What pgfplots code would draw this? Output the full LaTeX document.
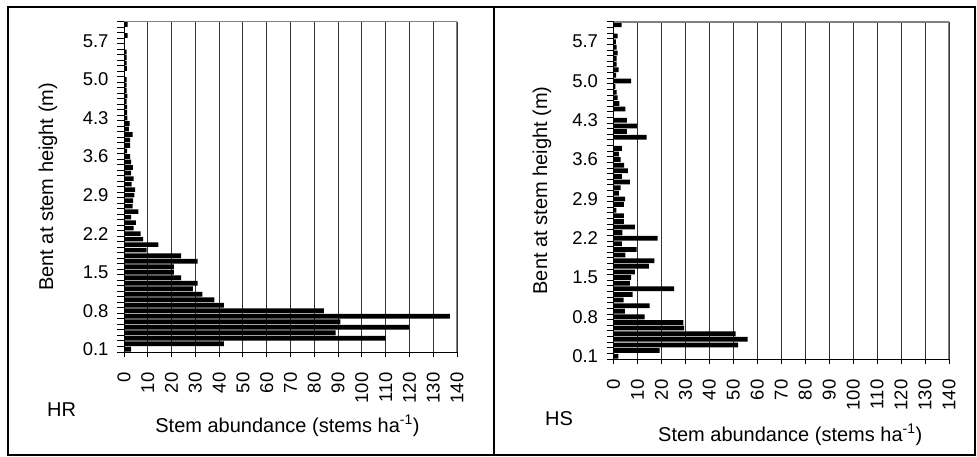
\documentclass[border=0pt]{standalone}
\usepackage{pgfplots}
\usepackage{pgfplotstable}
\pgfplotsset{compat=1.18}
\usepackage{fontspec}
\setmainfont{Liberation Sans}

\pgfplotstableread{
h hr hs
0.1 3 2
0.2 42 19.2
0.3 110 52
0.4 89 56
0.5 120 51
0.6 91 29.5
0.7 137 29.2
0.8 84 13
0.9 42 4.7
1.0 38 15.1
1.1 33 4.2
1.2 29 8
1.3 31 25.3
1.4 24 6.8
1.5 21 7.3
1.6 21 8.9
1.7 31 14.8
1.8 24 17.1
1.9 9.5 5
2.0 14.5 9.6
2.1 8 3.5
2.2 7 18.4
2.3 4 3.7
2.4 5 8.9
2.5 3 4.3
2.6 6 4.3
2.7 3.6 1.2
2.8 3.8 4.3
2.9 4.4 4.9
3.0 4.7 2.2
3.1 3.2 3
3.2 4 6.8
3.3 3 3.5
3.4 3.7 6
3.5 3 4.4
3.6 2.6 3
3.7 1.3 2.2
3.8 2.6 3.5
3.9 2.6 0
4.0 3.6 13.8
4.1 2 5.6
4.2 2.4 9.7
4.3 1.4 5.6
4.4 1.3 0
4.5 1.3 5
4.6 1.1 2.5
4.7 1.4 1.7
4.8 1.1 1.3
4.9 1.1 0.8
5.0 1.1 7.3
5.1 0 1.1
5.2 1.2 2.1
5.3 1.1 1.3
5.4 1.1 1.3
5.5 1.1 1.7
5.6 0 1.3
5.7 0 1
5.8 1.5 1.7
5.9 0 0
6.0 1.5 3.4
}\data

\pgfplotsset{
  panel/.style={
    scale only axis, enlargelimits=false,
    xmin=0, xmax=140, ymin=0.05, ymax=6.05,
    axis x line*=bottom, axis y line*=left,
    axis line style={black, line width=1bp},
    xtick={0,10,...,140},
    xticklabels={0,10,20,30,40,50,60,70,80,90,100,110,120,130,140},
    ytick={0.1,0.8,1.5,2.2,2.9,3.6,4.3,5.0,5.7},
    yticklabels={0.1,0.8,1.5,2.2,2.9,3.6,4.3,5.0,5.7},
    minor ytick={0.05,0.15,...,6.06},
    tick align=outside,
    major tick length=5bp, minor tick length=7bp,
    major y tick style={draw=none},
    minor y tick style={black, line width=1bp},
    major x tick style={black, line width=1bp},
    xmajorgrids,
    grid style={black!80, line width=1bp},
    tick label style={font=\fontsize{18.5bp}{21bp}\selectfont},
    xticklabel style={rotate=90, anchor=east, xshift=-12bp},
    yticklabel style={xshift=-7bp},
    label style={font=\fontsize{20bp}{23bp}\selectfont},
    ylabel={Bent at stem height (m)},
    xlabel={Stem abundance (stems ha\textsuperscript{-1})},
  }
}

\begin{document}
\begin{tikzpicture}
\useasboundingbox (0,0) rectangle (977bp,457bp);
\draw[line width=2bp] (8bp,2bp) rectangle (975bp,450bp);
\draw[line width=2bp] (494bp,2bp) -- (494bp,450bp);

\begin{axis}[panel, at={(124bp,105bp)}, anchor=south west,
  width=333bp, height=330.3bp,
  ylabel style={at={(axis description cs:-0.228,0.5)}, anchor=center},
  xlabel style={at={(rel axis cs:0.5,0)}, anchor=base, yshift=-80bp, xshift=-3bp}]
\addplot[xbar, fill=black, draw=none, bar width=0.085] table[x=hr, y=h] {\data};
\draw[gray, line width=1.5bp] (rel axis cs:0,1) -- (rel axis cs:1,1) -- (rel axis cs:1,0);
\end{axis}
\node[anchor=base west, font=\fontsize{20bp}{23bp}\selectfont, inner sep=0pt] at (47bp,40bp) {HR};

\begin{axis}[panel, at={(613.5bp,98bp)}, anchor=south west,
  width=335.5bp, height=337bp,
  ylabel style={at={(axis description cs:-0.213,0.5)}, anchor=center},
  xlabel style={at={(rel axis cs:0.5,0)}, anchor=base, yshift=-82bp, xshift=9bp}]
\addplot[xbar, fill=black, draw=none, bar width=0.085] table[x=hs, y=h] {\data};
\draw[gray, line width=1.5bp] (rel axis cs:0,1) -- (rel axis cs:1,1) -- (rel axis cs:1,0);
\end{axis}
\node[anchor=base west, font=\fontsize{20bp}{23bp}\selectfont, inner sep=0pt] at (545bp,32bp) {HS};
\end{tikzpicture}
\end{document}
